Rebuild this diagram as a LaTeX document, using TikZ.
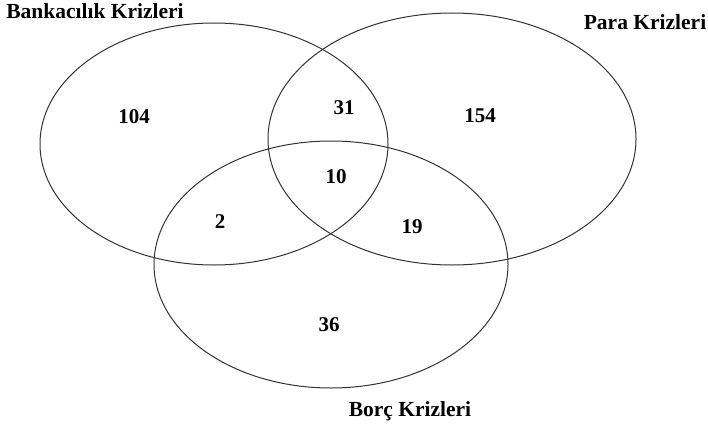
\documentclass[tikz,border=0pt]{standalone}
\usepackage{fontspec}
\setmainfont{Liberation Serif}
\usetikzlibrary{shapes.geometric}
\begin{document}
\begin{tikzpicture}[x=1pt,y=-1pt,
  setring/.style={draw=black!80,line width=1pt,ellipse,inner sep=0pt},
  num/.style={font=\bfseries\fontsize{21}{25}\selectfont,inner sep=0pt},
  lab/.style={font=\bfseries\fontsize{21.5}{26}\selectfont,inner sep=0pt,anchor=base}]
\useasboundingbox (0,0) rectangle (708,425);
\node[setring,minimum width=348pt,minimum height=242pt] (bank) at (214,144) {};
\node[setring,minimum width=368pt,minimum height=252pt] (para) at (452,139) {};
\node[setring,minimum width=354pt,minimum height=247pt] (borc) at (331,264.5) {};
\node[lab] (lbank) at (95,19) {Bankacılık Krizleri};
\node[lab] (lpara) at (645,30) {Para Krizleri};
\node[lab] (lborc) at (410,416) {Borç Krizleri};
\node[num] (n104) at (134,117) {104};
\node[num] (n31) at (344,108) {31};
\node[num] (n154) at (480,116) {154};
\node[num] (n10) at (336,177) {10};
\node[num] (n2) at (220,222) {2};
\node[num] (n19) at (412,227) {19};
\node[num] (n36) at (329,325) {36};
\end{tikzpicture}
\end{document}
